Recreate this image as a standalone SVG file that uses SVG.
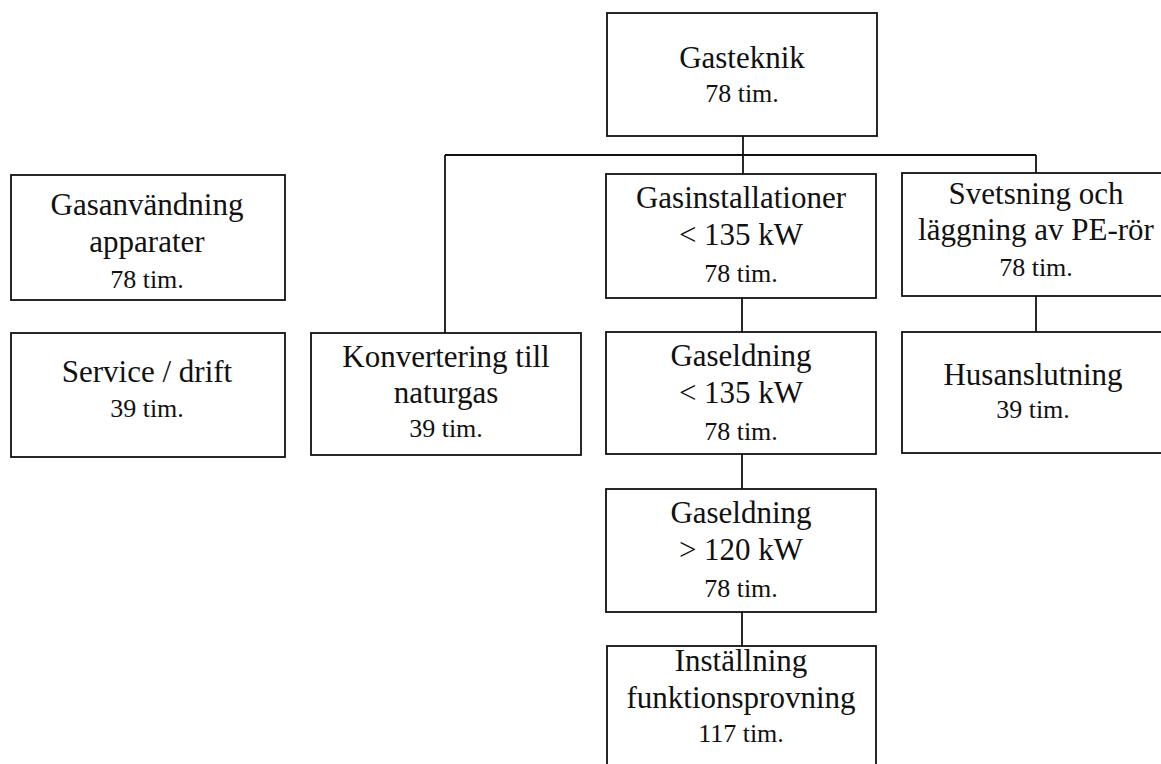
<svg xmlns="http://www.w3.org/2000/svg" width="1161" height="764" viewBox="0 0 1161 764">
<style>
rect.box{fill:#fff;stroke:#111;stroke-width:1.8}
.c line{stroke:#111;stroke-width:1.8}
text{font-family:"Liberation Serif","Times New Roman",serif;fill:#111;text-anchor:middle}
.m{font-size:31px}
.s{font-size:26px}
</style>
<rect width="1161" height="764" fill="#fff"/>
<g class="c" id="connectors">
<line x1="445" y1="155" x2="1036" y2="155"/>
<line x1="743" y1="136" x2="743" y2="174"/>
<line x1="445" y1="155" x2="445" y2="333"/>
<line x1="1036" y1="155" x2="1036" y2="173"/>
<line x1="1036" y1="296" x2="1036" y2="332"/>
<line x1="742" y1="298" x2="742" y2="332"/>
<line x1="742" y1="454" x2="742" y2="489"/>
<line x1="742" y1="612" x2="742" y2="646"/>
</g>
<g id="gasteknik">
<rect class="box" x="607" y="13" width="270" height="123"/>
<text class="m" x="742" y="68">Gasteknik</text>
<text class="s" x="742" y="102">78 tim.</text>
</g>
<g id="gasanvandning">
<rect class="box" x="11" y="175" width="274" height="125"/>
<text class="m" x="147" y="215">Gasanvändning</text>
<text class="m" x="147" y="252">apparater</text>
<text class="s" x="147" y="288">78 tim.</text>
</g>
<g id="service">
<rect class="box" x="11" y="333" width="274" height="124"/>
<text class="m" x="147" y="382">Service / drift</text>
<text class="s" x="147" y="417">39 tim.</text>
</g>
<g id="konvertering">
<rect class="box" x="311" y="333" width="270" height="122"/>
<text class="m" x="446" y="367">Konvertering till</text>
<text class="m" x="446" y="403">naturgas</text>
<text class="s" x="446" y="437">39 tim.</text>
</g>
<g id="gasinstallationer">
<rect class="box" x="606" y="174" width="270" height="124"/>
<text class="m" x="741" y="208">Gasinstallationer</text>
<text class="m" x="741" y="245">&lt; 135 kW</text>
<text class="s" x="741" y="282">78 tim.</text>
</g>
<g id="gaseldning135">
<rect class="box" x="606" y="332" width="270" height="122"/>
<text class="m" x="741" y="366">Gaseldning</text>
<text class="m" x="741" y="403">&lt; 135 kW</text>
<text class="s" x="741" y="440">78 tim.</text>
</g>
<g id="gaseldning120">
<rect class="box" x="606" y="489" width="270" height="123"/>
<text class="m" x="741" y="523">Gaseldning</text>
<text class="m" x="741" y="560">&gt; 120 kW</text>
<text class="s" x="741" y="597">78 tim.</text>
</g>
<g id="installning">
<rect class="box" x="607" y="646" width="269" height="130"/>
<text class="m" x="741" y="671">Inställning</text>
<text class="m" x="741" y="708">funktionsprovning</text>
<text class="s" x="741" y="742">117 tim.</text>
</g>
<g id="svetsning">
<rect class="box" x="902" y="173" width="270" height="123"/>
<text class="m" x="1036" y="204">Svetsning och</text>
<text class="m" x="1036" y="240">läggning av PE-rör</text>
<text class="s" x="1036" y="276">78 tim.</text>
</g>
<g id="husanslutning">
<rect class="box" x="902" y="332" width="270" height="121"/>
<text class="m" x="1033" y="385">Husanslutning</text>
<text class="s" x="1033" y="418">39 tim.</text>
</g>
</svg>
